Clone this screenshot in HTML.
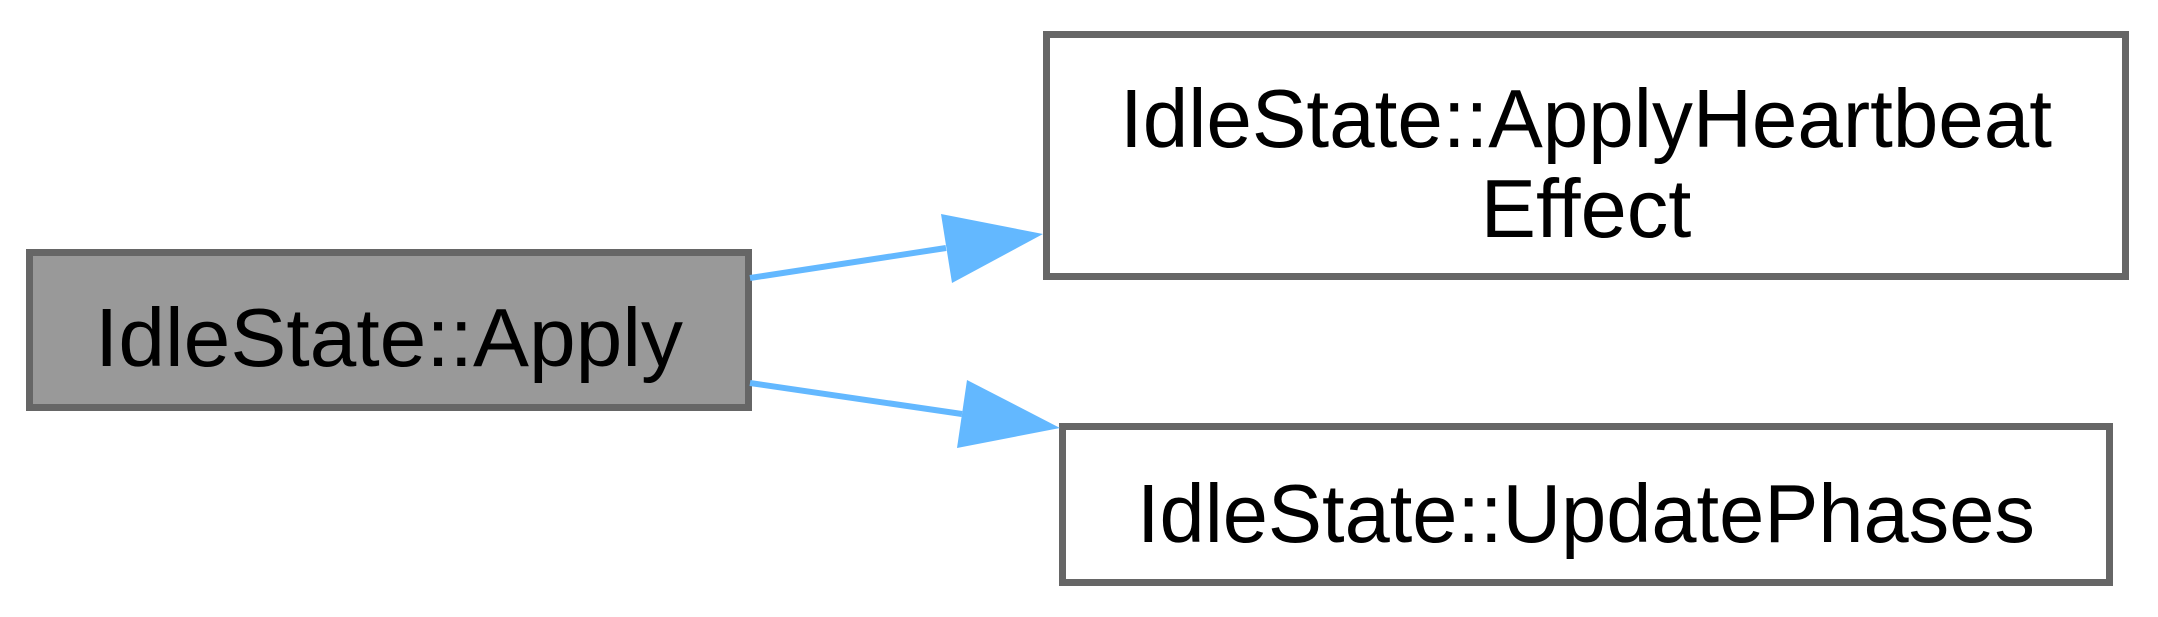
<!DOCTYPE html>
<html><head><meta charset="utf-8"><style>html,body{margin:0;padding:0;background:#fff}svg{display:block}</style></head>
<body>
<svg width="2158" height="617" viewBox="0 0 2158 617" xmlns="http://www.w3.org/2000/svg">
<g font-family="Liberation Sans, Arial, sans-serif" font-size="83" text-anchor="middle" fill="#000">
<rect x="29.5" y="252.5" width="719" height="155" fill="#999999" stroke="#666666" stroke-width="7"/>
<text x="389" y="366" textLength="588" lengthAdjust="spacingAndGlyphs">IdleState::Apply</text>
<rect x="1046.5" y="34.5" width="1079" height="242" fill="#ffffff" stroke="#666666" stroke-width="7"/>
<text x="1586" y="147" textLength="932" lengthAdjust="spacingAndGlyphs">IdleState::ApplyHeartbeat</text>
<text x="1586" y="237">Effect</text>
<rect x="1062.5" y="426.5" width="1047" height="156" fill="#ffffff" stroke="#666666" stroke-width="7"/>
<text x="1586" y="542" textLength="898" lengthAdjust="spacingAndGlyphs">IdleState::UpdatePhases</text>
</g>
<g stroke="#63b8ff" stroke-width="6" fill="none">
<line x1="750" y1="278" x2="946" y2="248"/>
<line x1="750" y1="383" x2="962" y2="414"/>
</g>
<g fill="#63b8ff">
<polygon points="1043,234 941,214 952,283"/>
<polygon points="1060,428 967,380 957,448"/>
</g>
</svg>
</body></html>
